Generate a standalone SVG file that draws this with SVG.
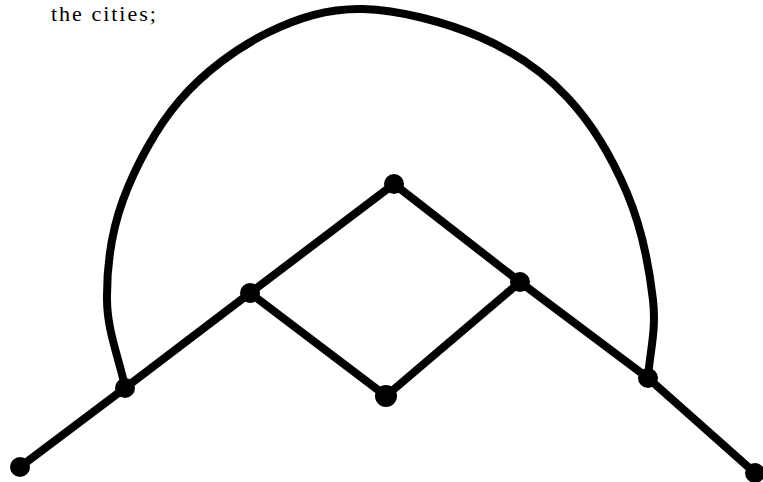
<svg xmlns="http://www.w3.org/2000/svg" width="763" height="482" viewBox="0 0 763 482">
<style>
.edge{fill:none;stroke:#000;stroke-width:8;stroke-linecap:round;stroke-linejoin:round}
.node{fill:#000}
.lbl{font-family:"Liberation Serif","Times New Roman",serif;font-size:22px;letter-spacing:2px;fill:#000}
</style>
<rect width="763" height="482" fill="#fff"/>
<text class="lbl" x="51" y="21">the cities;</text>
<g id="connectors">
<path class="edge" d="M20,467 L125,388 L250,293 L394,184 L520,282 L648,378 L755,473"/>
<path class="edge" d="M250,293 L386,396 L520,282"/>
<path class="edge" d="M125,387 C119,358 107.3,331.2 107,300 C106.7,268.8 110.8,233.3 123,200 C135.2,166.7 156,127.8 180,100 C204,72.2 236.5,48.2 267,33 C297.5,17.8 327.5,8.3 363,9 C398.5,9.7 446,22.3 480,37 C514,51.7 542.5,71 567,97 C591.5,123 612.7,159.2 627,193 C641.3,226.8 649.5,269.2 653,300 C656.5,330.8 649.7,352 648,378"/>
</g>
<g id="n1"><circle class="node" cx="20" cy="467" r="10"/></g>
<g id="n2"><circle class="node" cx="125" cy="388" r="10"/></g>
<g id="n3"><circle class="node" cx="250" cy="293" r="10"/></g>
<g id="n4"><circle class="node" cx="394" cy="184" r="10"/></g>
<g id="n5"><circle class="node" cx="520" cy="282" r="10"/></g>
<g id="n6"><circle class="node" cx="386" cy="396" r="11"/></g>
<g id="n7"><circle class="node" cx="648" cy="378" r="10"/></g>
<g id="n8"><circle class="node" cx="755" cy="473" r="10"/></g>
</svg>
